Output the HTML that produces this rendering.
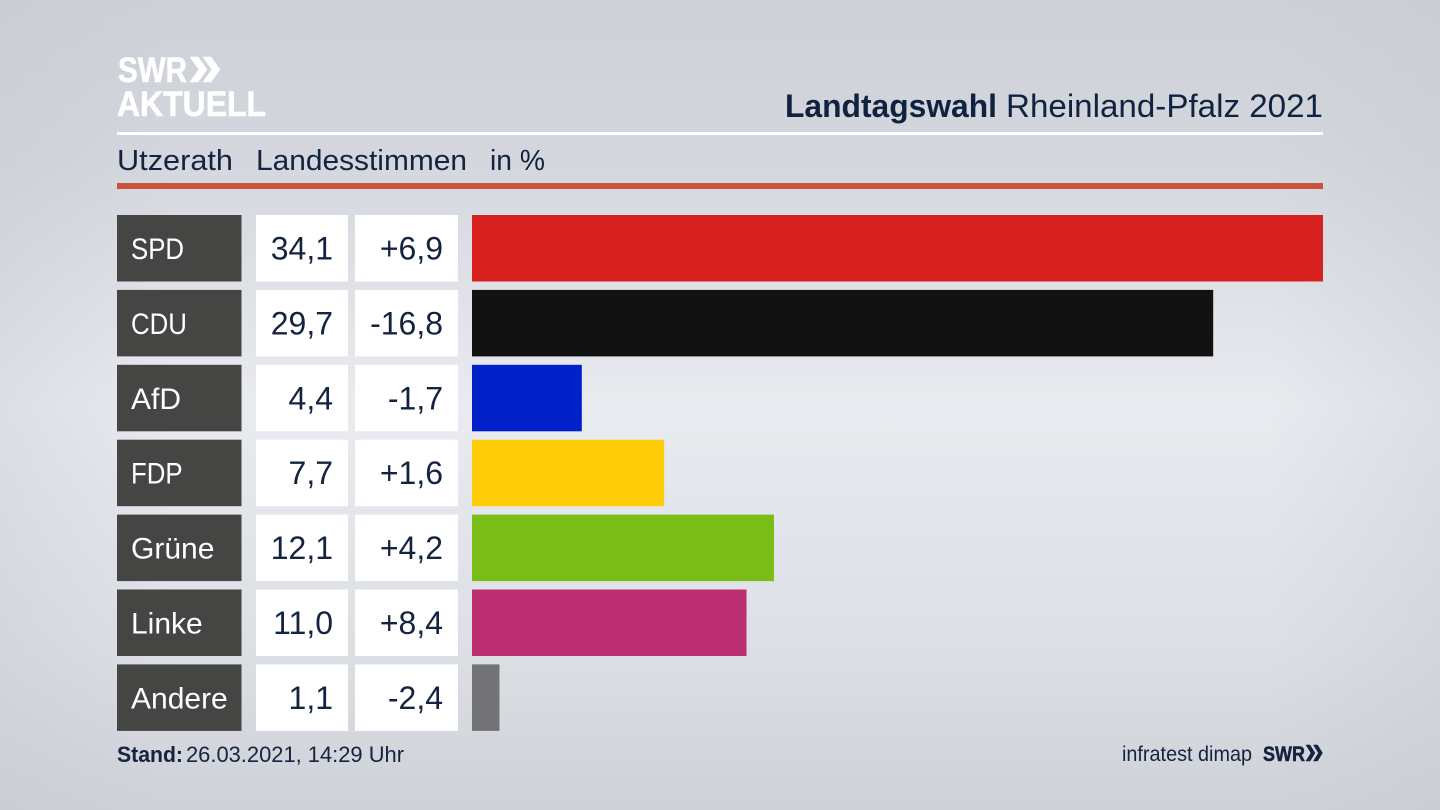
<!DOCTYPE html>
<html lang="de">
<head>
<meta charset="utf-8">
<title>Landtagswahl Rheinland-Pfalz 2021</title>
<style>
html,body{margin:0;padding:0;width:1440px;height:810px;overflow:hidden;background:#d3d6dc}
svg{display:block;font-family:"Liberation Sans",sans-serif}
</style>
</head>
<body>
<svg id="chart" xmlns="http://www.w3.org/2000/svg" width="1440" height="810" viewBox="0 0 1440 810">
  <defs>
    <linearGradient id="bgV" x1="0" y1="0" x2="0" y2="1">
      <stop offset="0" stop-color="#cdd0d7"/>
      <stop offset="0.2" stop-color="#d4d7dd"/>
      <stop offset="0.5" stop-color="#e9ebf0"/>
      <stop offset="0.8" stop-color="#dcdfe4"/>
      <stop offset="1" stop-color="#ced1d7"/>
    </linearGradient>
    <linearGradient id="bgH" x1="0" y1="0" x2="1" y2="0">
      <stop offset="0" stop-color="#c3c7cf" stop-opacity="0.35"/>
      <stop offset="0.12" stop-color="#c3c7cf" stop-opacity="0"/>
      <stop offset="0.88" stop-color="#c3c7cf" stop-opacity="0"/>
      <stop offset="1" stop-color="#c3c7cf" stop-opacity="0.35"/>
    </linearGradient>
  </defs>
  <rect width="1440" height="810" fill="url(#bgV)"/>
  <rect width="1440" height="810" fill="url(#bgH)"/>

  <g fill="#fff" stroke="#fff" stroke-width="0.6">
    <text x="118" y="82" font-size="35" font-weight="700" textLength="69" lengthAdjust="spacingAndGlyphs">SWR</text>
    <path d="M190 57h8l9 12.500-9 12.500h-8l9-12.500zM203 57h8l9 12.500-9 12.500h-8l9-12.500z"/>
    <text x="117" y="116" font-size="35" font-weight="700" textLength="149" lengthAdjust="spacingAndGlyphs">AKTUELL</text>
  </g>

  <text x="785" y="117" font-size="32" font-weight="700" fill="#0f2340" textLength="212" lengthAdjust="spacingAndGlyphs">Landtagswahl</text>
  <text x="1006" y="117" font-size="32" fill="#0f2340" textLength="317" lengthAdjust="spacingAndGlyphs">Rheinland-Pfalz 2021</text>
  <rect x="117" y="132" width="1206" height="3" fill="#fff"/>

  <text x="117" y="170" font-size="29" fill="#14233f" textLength="116" lengthAdjust="spacingAndGlyphs">Utzerath</text>
  <text x="256" y="170" font-size="29" fill="#14233f" textLength="211" lengthAdjust="spacingAndGlyphs">Landesstimmen</text>
  <text x="490" y="170" font-size="29" fill="#14233f" textLength="55" lengthAdjust="spacingAndGlyphs">in %</text>
  <rect x="117" y="183" width="1206" height="6" fill="#cc5239"/>

  <g id="rows"></g>

  <text x="117" y="762" font-size="22.500" font-weight="700" fill="#14233f" textLength="66" lengthAdjust="spacingAndGlyphs">Stand:</text>
  <text x="186" y="762" font-size="22.500" fill="#14233f" textLength="218" lengthAdjust="spacingAndGlyphs">26.03.2021, 14:29 Uhr</text>
  <text x="1122" y="761" font-size="21" fill="#14233f" textLength="130" lengthAdjust="spacingAndGlyphs">infratest dimap</text>
  <g fill="#14233f" stroke="#14233f" stroke-width="0.5">
    <text x="1263" y="761" font-size="21" font-weight="700" textLength="42" lengthAdjust="spacingAndGlyphs">SWR</text>
    <path d="M1306 745h4l5 8-5 8h-4l5-8zM1313.500 745h4l5 8-5 8h-4l5-8z"/>
  </g>
</svg>
<script>
const parties = ["SPD", "CDU", "AfD", "FDP", "Grüne", "Linke", "Andere"];
const shares = [34.1, 29.7, 4.4, 7.7, 12.1, 11.0, 1.1];
const changes = [6.9, -16.8, -1.7, 1.6, 4.2, 8.4, -2.4];
const partyColors = ["#d8201f", "#121212", "#0021c8", "#ffcd07", "#7abd18", "#bc3072", "#737375"];

const NS = "http://www.w3.org/2000/svg";
const rowsGroup = document.getElementById("rows");
const BAR_X = 472;
const BAR_MAX_WIDTH = 851;
const ROW_TOP = 215;
const ROW_STEP = 74.9;
const ROW_HEIGHT = 66.5;
const maxShare = Math.max.apply(null, shares);
const xScale = function (v) { return v / maxShare * BAR_MAX_WIDTH; };
const yScale = function (i) { return ROW_TOP + i * ROW_STEP; };
const formatShare = function (v) { return v.toFixed(1).replace(".", ","); };
const formatChange = function (v) { return (v > 0 ? "+" : "") + v.toFixed(1).replace(".", ","); };

function makeRect(x, y, w, h, fill) {
  const r = document.createElementNS(NS, "rect");
  r.setAttribute("x", x);
  r.setAttribute("y", y);
  r.setAttribute("width", w);
  r.setAttribute("height", h);
  r.setAttribute("fill", fill);
  return r;
}
function makeText(x, y, str, fill, anchor, size) {
  const t = document.createElementNS(NS, "text");
  t.setAttribute("x", x);
  t.setAttribute("y", y);
  t.setAttribute("fill", fill);
  t.setAttribute("font-size", size);
  t.setAttribute("text-anchor", anchor);
  t.textContent = str;
  return t;
}

parties.forEach(function (party, i) {
  const y = yScale(i);
  const base = y + 44;

  const labelBox = makeRect(117, y, 124.500, ROW_HEIGHT, "#454543");
  
  
  rowsGroup.appendChild(labelBox);

  const label = makeText(131, base, party, "#ffffff", "start", 30);
  
  
  rowsGroup.appendChild(label);
  if (party === party.toUpperCase()) {
    label.setAttribute("lengthAdjust", "spacingAndGlyphs");
    label.setAttribute("textLength", label.getComputedTextLength() * 0.86);
  }

  const shareBox = makeRect(256, y, 92, ROW_HEIGHT, "#ffffff");
  
  
  rowsGroup.appendChild(shareBox);

  const shareText = makeText(333, base + 0.5, formatShare(shares[i]), "#14233f", "end", 32);
  
  
  rowsGroup.appendChild(shareText);

  const changeBox = makeRect(355, y, 103, ROW_HEIGHT, "#ffffff");
  
  
  rowsGroup.appendChild(changeBox);

  const changeText = makeText(443, base + 0.5, formatChange(changes[i]), "#14233f", "end", 32);
  
  
  rowsGroup.appendChild(changeText);

  const bar = makeRect(BAR_X, y, xScale(shares[i]), ROW_HEIGHT, partyColors[i]);
  
  
  rowsGroup.appendChild(bar);
});
</script>
</body>
</html>
